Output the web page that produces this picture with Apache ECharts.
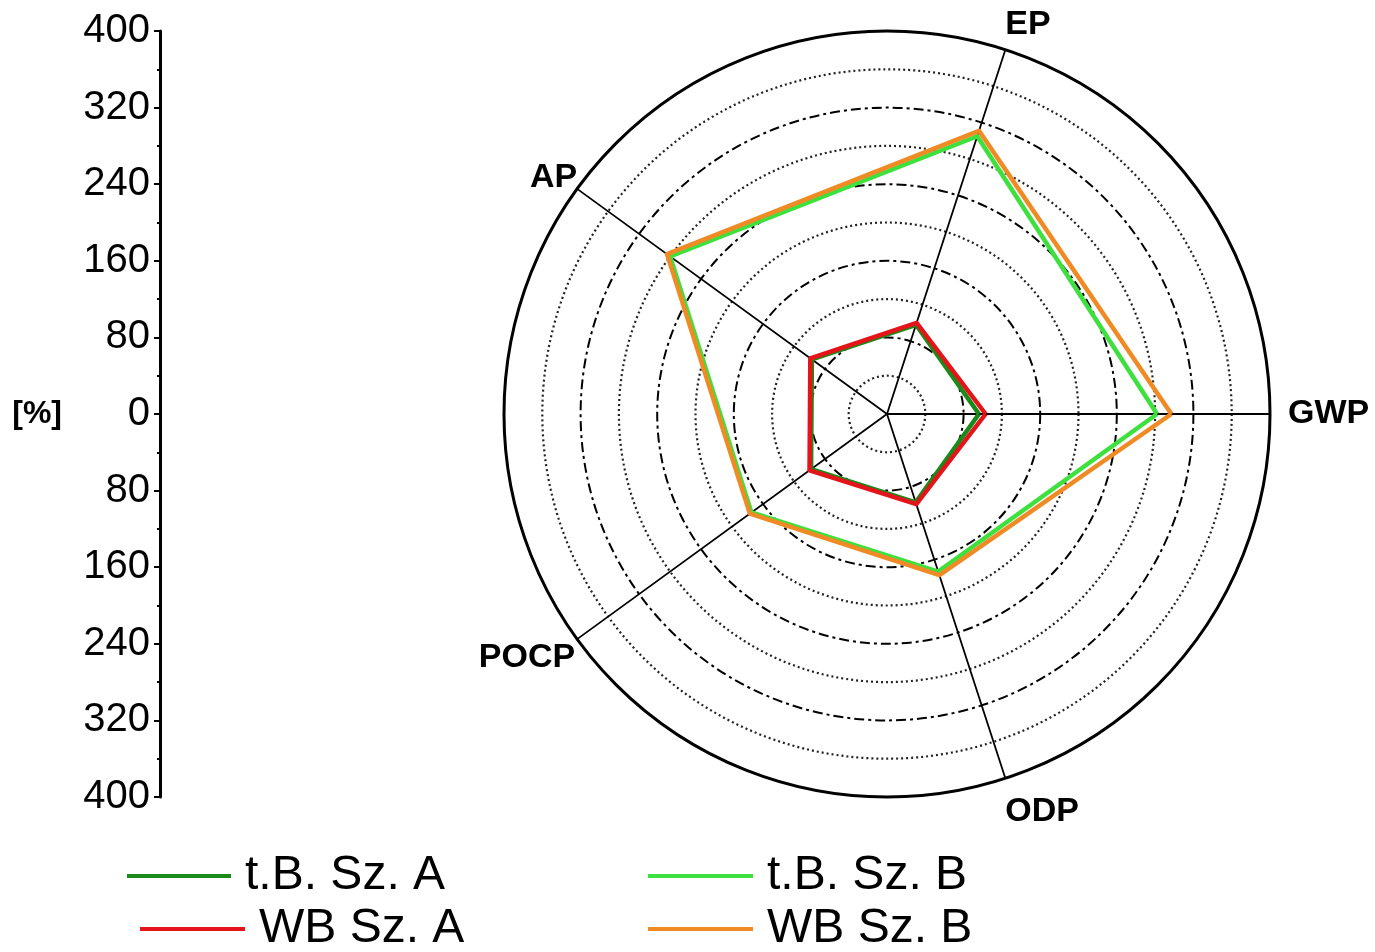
<!DOCTYPE html>
<html>
<head>
<meta charset="utf-8">
<script src="https://cdn.jsdelivr.net/npm/echarts@6/dist/echarts.min.js"></script>
<style>
  html, body { margin: 0; padding: 0; background: #fff; }
  #chart { width: 1375px; height: 952px; }
</style>
</head>
<body>
<div id="chart"></div>
<script>
// Impact categories, counter-clockwise from the right-hand axis
const categories = ['GWP', 'EP', 'AP', 'POCP', 'ODP'];
const radarMax = 400;

// Series values [%] per category
const tbSzA = [96, 98, 97, 98, 97];
const tbSzB = [282, 305, 280, 175, 173];
const wbSzA = [103, 100, 99, 100, 99];
const wbSzB = [297, 311, 284, 177, 177];

const seriesNames = ['t.B. Sz. A', 't.B. Sz. B', 'WB Sz. A', 'WB Sz. B'];
const seriesColors = ['#1a8a1a', '#3ee03e', '#e3141a', '#f08a24'];

// Scale bar on the left: 400 … 0 … 400
const scaleMin = -400;
const scaleMax = 400;
const scaleStep = 80;

const FONT = 'Arial, "Liberation Sans", sans-serif';
const CX = 887, CY = 414, R = 383;

const indicators = categories.map(n => ({ name: n, min: 0, max: radarMax }));

// per-label nudges for the category names around the circle
const nameStyles = {
  GWP:  { padding: [0, 0, 0, 18] },
  EP:   { padding: [0, 0, 50, 0] },
  AP:   { padding: [0, 0, 22, 0] },
  POCP: { padding: [38, 2, 0, 0] },
  ODP:  { padding: [66, 0, 0, 0] }
};
const nameRich = {};
Object.keys(nameStyles).forEach(k => {
  nameRich[k] = Object.assign({
    color: '#000', fontFamily: FONT, fontWeight: 'bold', fontSize: 34
  }, nameStyles[k]);
});

const baseRadar = {
  center: [CX, CY],
  radius: R,
  startAngle: 0,
  shape: 'circle',
  indicator: indicators,
  splitArea: { show: false },
  axisTick: { show: false },
  axisLabel: { show: false }
};

const chart = echarts.init(document.getElementById('chart'), null, { renderer: 'canvas' });

const seriesData = [tbSzA, tbSzB, wbSzA, wbSzB];

const option = {
  backgroundColor: '#ffffff',
  animation: false,
  radar: [
    // fine dotted rings every 40 %
    Object.assign({}, baseRadar, {
      splitNumber: 10,
      axisName: {
        show: true,
        color: '#000',
        fontFamily: FONT,
        fontWeight: 'bold',
        fontSize: 34,
        formatter: name => '{' + name + '|' + name + '}',
        rich: nameRich
      },
      nameGap: 0,
      axisLine: { show: true, lineStyle: { color: '#000', width: 1.8 } },
      splitLine: {
        show: true,
        lineStyle: { color: ['rgba(0,0,0,0)', '#222'], width: 2.2, type: [2, 3] }
      }
    }),
    // dash-dot rings every 80 %
    Object.assign({}, baseRadar, {
      splitNumber: 5,
      axisName: { show: false },
      axisLine: { show: false },
      splitLine: {
        show: true,
        lineStyle: {
          color: ['#000', '#000', '#000', '#000', '#000', 'rgba(0,0,0,0)'],
          width: 2,
          type: [10, 4, 3, 4]
        }
      }
    }),
    // solid outer boundary
    Object.assign({}, baseRadar, {
      splitNumber: 1,
      axisName: { show: false },
      axisLine: { show: false },
      splitLine: {
        show: true,
        lineStyle: { color: ['rgba(0,0,0,0)', '#000'], width: 3, type: 'solid' }
      }
    })
  ],
  grid: {
    left: 160,
    top: CY - R,
    height: 2 * R,
    width: 1,
    containLabel: false
  },
  xAxis: { type: 'value', show: false },
  yAxis: {
    type: 'value',
    min: scaleMin,
    max: scaleMax,
    interval: scaleStep,
    name: '[%]',
    nameLocation: 'middle',
    nameRotate: 0,
    nameGap: 98,
    nameTextStyle: { color: '#000', fontFamily: FONT, fontWeight: 'bold', fontSize: 32 },
    axisLine: { show: true, lineStyle: { color: '#000', width: 3 } },
    axisTick: { show: true, length: 6, lineStyle: { color: '#000', width: 2 } },
    minorTick: { show: true, splitNumber: 2, length: 3, lineStyle: { color: '#000', width: 2 } },
    splitLine: { show: false },
    axisLabel: {
      color: '#000',
      fontFamily: FONT,
      fontSize: 40,
      margin: 10,
      formatter: v => String(Math.abs(v))
    }
  },
  legend: [
    { left: 127, top: 852, itemWidth: 104, data: [seriesNames[0]] },
    { left: 648, top: 852, itemWidth: 105, data: [seriesNames[1]] },
    { left: 140, top: 905, itemWidth: 105, data: [seriesNames[2]] },
    { left: 648, top: 905, itemWidth: 105, data: [seriesNames[3]] }
  ].map(l => Object.assign(l, {
    icon: 'rect',
    itemGap: 0,
    itemHeight: 4,
    padding: [0, 0, 0, 0],
    selectedMode: false,
    textStyle: { color: '#000', fontFamily: FONT, fontSize: 48, padding: [0, 0, 0, 9] }
  })),
  series: seriesNames.map((name, i) => ({
    name: name,
    type: 'radar',
    radarIndex: 0,
    symbol: 'none',
    z: 3 + i,
    itemStyle: { color: seriesColors[i] },
    lineStyle: { color: seriesColors[i], width: 4.5 },
    data: [{ value: seriesData[i], name: name }]
  }))
};

chart.setOption(option);
</script>
</body>
</html>
